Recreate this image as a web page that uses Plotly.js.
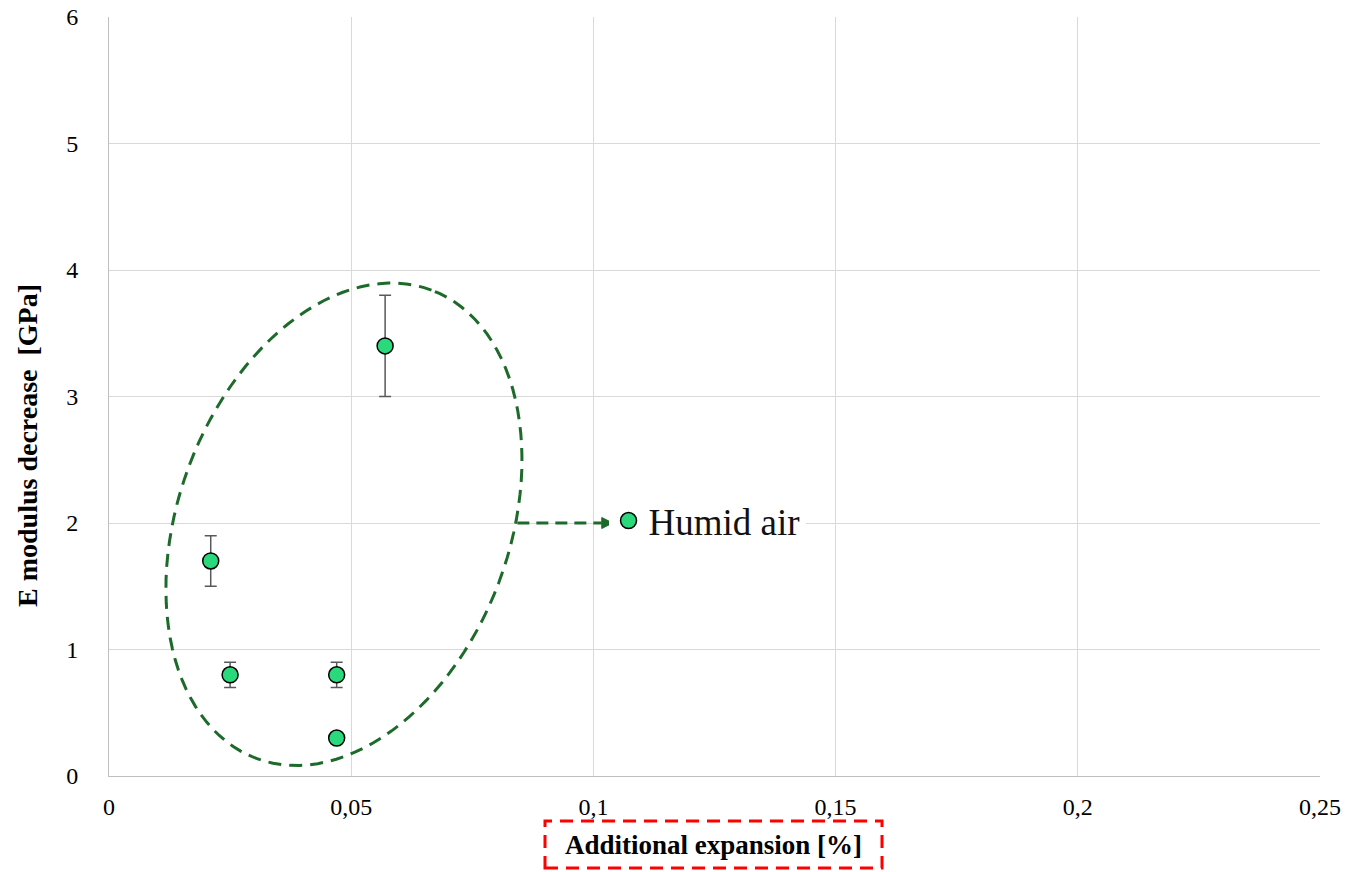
<!DOCTYPE html>
<html>
<head>
<meta charset="utf-8">
<script src="https://cdn.plot.ly/plotly-3.0.1.min.js"></script>
<style>
  html, body { margin: 0; padding: 0; background: #ffffff; }
  #chart { width: 1346px; height: 872px; }
</style>
</head>
<body>
<div id="chart"></div>
<script>
// Measured points: additional expansion [%] vs. E modulus decrease [GPa]
const expansion = [0.021, 0.025, 0.047, 0.047, 0.057];
const modulusDecrease = [1.7, 0.8, 0.8, 0.3, 3.4];
const modulusError = [0.2, 0.1, 0.1, 0, 0.4];
const seriesName = 'Humid air';

// Axis ranges and plot-area size
const xRange = [0, 0.25];
const yRange = [0, 6];
const margin = { l: 109, r: 26, t: 17, b: 96 };
const W = 1346, H = 872;
const plotW = W - margin.l - margin.r;
const plotH = H - margin.t - margin.b;
const kx = (xRange[1] - xRange[0]) / plotW;   // data units per pixel (x)
const ky = (yRange[1] - yRange[0]) / plotH;   // data units per pixel (y)

// Tilted dashed ellipse grouping the points (centre in data units, axes in pixels)
const ell = { cx: 0.0485, cy: 1.99, a: 250, b: 165.5, angleDeg: 69.5 };
function ellipsePath(e) {
  const th = e.angleDeg * Math.PI / 180;
  const n = 120;
  let d = '';
  for (let i = 0; i <= n; i++) {
    const t = 2 * Math.PI * i / n;
    const u = e.a * Math.cos(t), v = e.b * Math.sin(t);
    const px = u * Math.cos(th) - v * Math.sin(th);
    const py = u * Math.sin(th) + v * Math.cos(th);
    const x = e.cx + px * kx, y = e.cy + py * ky;
    d += (i === 0 ? 'M' : 'L') + x.toFixed(5) + ',' + y.toFixed(5);
  }
  return d + 'Z';
}

// Arrow from the ellipse to the legend entry
const arrow = { x0: 0.0843, x1: 0.1040, y: 2.0, headLen: 11, headHalf: 5.5 };
const headBase = arrow.x1 - arrow.headLen * kx;
const headPath = 'M' + arrow.x1 + ',' + arrow.y +
  'L' + headBase + ',' + (arrow.y + arrow.headHalf * ky) +
  'L' + headBase + ',' + (arrow.y - arrow.headHalf * ky) + 'Z';

const darkGreen = '#1d6b2b';
const serif = 'Liberation Serif, Times New Roman, serif';
const longDash = '13px,8px';

const trace = {
  type: 'scatter',
  mode: 'markers',
  name: seriesName,
  x: expansion,
  y: modulusDecrease,
  error_y: {
    type: 'data',
    array: modulusError,
    visible: true,
    color: '#595959',
    thickness: 1.5,
    width: 6
  },
  marker: {
    size: 16,
    color: '#29d97c',
    line: { color: '#000000', width: 1.5 }
  },
  cliponaxis: false
};

// Red dashed frame around the x-axis title (paper units from pixel box)
const box = { l: 545, r: 882, t: 821, b: 868 };
const toPX = p => (p - margin.l) / plotW;
const toPY = p => (H - margin.b - p) / plotH;

const layout = {
  width: W,
  height: H,
  margin: margin,
  paper_bgcolor: '#ffffff',
  plot_bgcolor: '#ffffff',
  separators: ', ',
  font: { family: serif, color: '#000000', size: 24 },
  showlegend: true,
  legend: {
    x: 0.4125,
    xanchor: 'left',
    y: 0.336,
    yanchor: 'middle',
    bgcolor: '#ffffff',
    borderwidth: 0,
    font: { family: serif, size: 37, color: '#111111' },
    itemsizing: 'trace'
  },
  xaxis: {
    range: xRange,
    dtick: 0.05,
    tick0: 0,
    showgrid: true,
    gridcolor: '#d9d9d9',
    gridwidth: 1,
    zeroline: false,
    showline: true,
    linecolor: '#bfbfbf',
    linewidth: 1,
    ticks: '',
    ticklabelstandoff: 9,
    tickfont: { family: serif, size: 24, color: '#000000' },
    title: { text: '' }
  },
  yaxis: {
    range: yRange,
    dtick: 1,
    tick0: 0,
    showgrid: true,
    gridcolor: '#d9d9d9',
    gridwidth: 1,
    zeroline: false,
    showline: true,
    linecolor: '#bfbfbf',
    linewidth: 1,
    ticks: '',
    ticklabelstandoff: 25,
    tickfont: { family: serif, size: 24, color: '#000000' },
    title: { text: '' }
  },
  annotations: [
    {
      text: '<b>Additional expansion [%]</b>',
      xref: 'paper', yref: 'paper',
      x: (toPX(box.l) + toPX(box.r)) / 2,
      y: (toPY(box.t) + toPY(box.b)) / 2,
      xanchor: 'center', yanchor: 'middle',
      showarrow: false,
      font: { family: serif, size: 27, color: '#000000' }
    },
    {
      text: '<b>E modulus decrease  [GPa]</b>',
      xref: 'paper', yref: 'paper',
      x: toPX(27),
      y: toPY(446),
      xanchor: 'center', yanchor: 'middle',
      textangle: -90,
      showarrow: false,
      font: { family: serif, size: 28, color: '#000000' }
    }
  ],
  shapes: [
    {
      type: 'path',
      xref: 'x', yref: 'y',
      path: ellipsePath(ell),
      line: { color: darkGreen, width: 3, dash: longDash },
      fillcolor: 'rgba(0,0,0,0)',
      layer: 'above'
    },
    {
      type: 'line',
      xref: 'x', yref: 'y',
      x0: arrow.x0, x1: headBase, y0: arrow.y, y1: arrow.y,
      line: { color: darkGreen, width: 3, dash: '12px,7px' },
      layer: 'above'
    },
    {
      type: 'path',
      xref: 'x', yref: 'y',
      path: headPath,
      line: { color: darkGreen, width: 1 },
      fillcolor: darkGreen,
      layer: 'above'
    },
    {
      type: 'rect',
      xref: 'paper', yref: 'paper',
      x0: toPX(box.l), x1: toPX(box.r),
      y0: toPY(box.b), y1: toPY(box.t),
      line: { color: '#ff0000', width: 3, dash: longDash },
      fillcolor: 'rgba(0,0,0,0)'
    }
  ]
};

Plotly.newPlot('chart', [trace], layout, { displayModeBar: false, staticPlot: true });
</script>
</body>
</html>
